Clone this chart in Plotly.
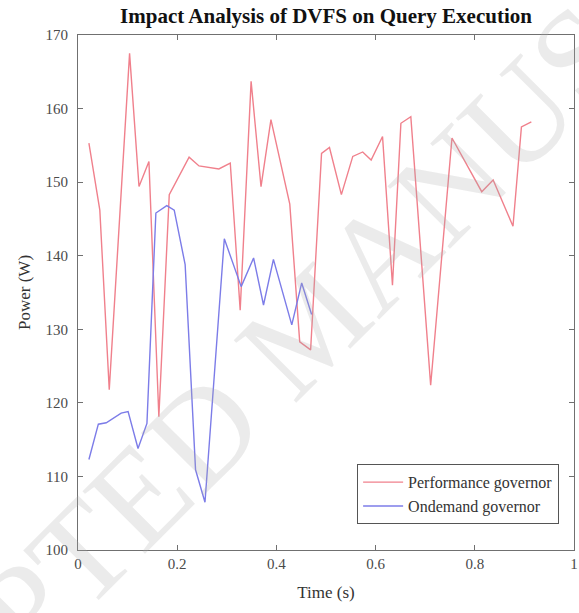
import plotly.graph_objects as go

# Performance governor power trace
time_perf = [0.022, 0.044, 0.063, 0.104, 0.123, 0.143, 0.163, 0.184, 0.224, 0.244,
             0.284, 0.307, 0.327, 0.349, 0.369, 0.389, 0.427, 0.447, 0.469, 0.491,
             0.507, 0.531, 0.554, 0.574, 0.591, 0.614, 0.634, 0.651, 0.671, 0.711,
             0.754, 0.784, 0.814, 0.837, 0.877, 0.894, 0.914]
power_perf = [155.3, 146.2, 121.8, 167.5, 149.4, 152.8, 118.1, 148.3, 153.4, 152.2,
              151.8, 152.6, 132.6, 163.7, 149.4, 158.5, 147.0, 128.3, 127.2, 153.9,
              154.7, 148.3, 153.5, 154.1, 153.0, 156.2, 136.0, 158.0, 158.9, 122.4,
              156.0, 152.4, 148.7, 150.3, 144.0, 157.5, 158.2]

# Ondemand governor power trace
time_ond = [0.022, 0.041, 0.057, 0.087, 0.101, 0.121, 0.139, 0.157, 0.179, 0.194,
            0.216, 0.237, 0.256, 0.295, 0.329, 0.354, 0.374, 0.394, 0.431, 0.451,
            0.471]
power_ond = [112.3, 117.1, 117.3, 118.6, 118.8, 113.8, 117.2, 145.8, 146.8, 146.2,
             138.8, 110.9, 106.5, 142.3, 135.8, 139.7, 133.3, 139.5, 130.6, 136.3,
             132.0]

x_ticks = [0, 0.2, 0.4, 0.6, 0.8, 1]
x_tick_text = ["0", "0.2", "0.4", "0.6", "0.8", "1"]
y_ticks = [100, 110, 120, 130, 140, 150, 160, 170]

SERIF = "Liberation Serif"

fig = go.Figure()
fig.add_trace(go.Scatter(x=time_perf, y=power_perf, mode="lines",
                         name="Performance governor",
                         line=dict(color="rgb(240,128,140)", width=1.4)))
fig.add_trace(go.Scatter(x=time_ond, y=power_ond, mode="lines",
                         name="Ondemand governor",
                         line=dict(color="rgb(124,124,232)", width=1.4)))

axis_common = dict(
    showline=True, linecolor="#707070", linewidth=1, mirror="allticks",
    ticks="inside", ticklen=5, tickcolor="#707070",
    showgrid=False, zeroline=False,
    ticklabeloverflow="allow",
    tickfont=dict(family=SERIF, size=15, color="#4a4a4a"),
)

fig.update_layout(
    width=579, height=613,
    margin=dict(l=78, r=1, t=35, b=63),
    paper_bgcolor="white", plot_bgcolor="white",
    font=dict(family=SERIF, color="#333"),
    title=dict(text="<b>Impact Analysis of DVFS on Query Execution</b>",
               font=dict(family=SERIF, size=21, color="#111"),
               x=0.5, xref="paper", xanchor="center",
               y=1 - 16 / 613, yref="container", yanchor="middle"),
    xaxis=dict(range=[0, 1], tickvals=x_ticks, ticktext=x_tick_text,
               title=dict(text="Time (s)", font=dict(family=SERIF, size=17, color="#333"),
                          standoff=15),
               **axis_common),
    yaxis=dict(range=[100, 170], tickvals=y_ticks, ticklabelstandoff=6,
               title=dict(text="Power (W)", font=dict(family=SERIF, size=17, color="#333"),
                          standoff=10),
               **axis_common),
    legend=dict(x=0.97, xanchor="right", y=0.05, yanchor="bottom",
                bgcolor="white", bordercolor="#555", borderwidth=1,
                font=dict(family=SERIF, size=16, color="#333"),
                itemwidth=40, tracegroupgap=2),
    showlegend=True,
)

# diagonal watermark across the page
fig.add_annotation(text="ACCEPTED MANUSCRIPT", xref="paper", yref="paper",
                   x=(312 - 78) / 500, y=(550.5 - 325) / 515.5,
                   xanchor="center", yanchor="middle", showarrow=False,
                   textangle=-45,
                   font=dict(family=SERIF, size=135, color="rgba(170,170,170,0.24)"))

fig.write_html("out.html")
